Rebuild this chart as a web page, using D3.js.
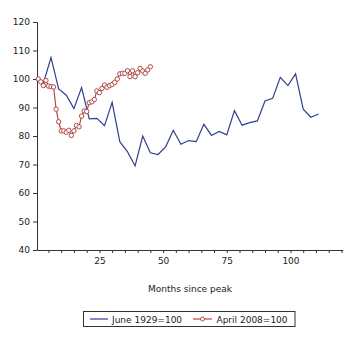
<!DOCTYPE html>
<html><head><meta charset="utf-8">
<script src="https://cdn.jsdelivr.net/npm/d3@7"></script>
<style>body{margin:0;background:#fff}svg{display:block}text{font-family:"DejaVu Sans",Verdana,sans-serif;fill:#222}</style>
</head><body><svg id="c" width="359" height="337"></svg>
<script>
const blueMonths = [1,3,6,9,12,15,18,21,24,27,30,33,36,39,42,45,48,51,54,57,60,63,66,69,72,75,78,81,84,87,90,93,96,99,102,105,108,111];
const blueValues = [100,98.5,107.5,96.5,94.3,89.6,97,86,86.2,83.6,91.8,78,74.5,69.5,80,74.1,73.5,76.2,82,77.1,78.4,78,84.1,80.2,81.6,80.4,88.9,83.8,84.7,85.3,92.3,93.2,100.6,97.7,101.8,89.4,86.6,87.7];
const redMonths = d3.range(1,46);
const redValues = [100,99,97.7,99.5,97.5,97.3,97.2,89.4,85,81.8,81.8,81.3,82,80.2,81.8,83.7,83.2,87,88.8,88.6,91.7,92,92.8,95.8,95.2,96.7,97.9,97.1,97.7,98.1,98.8,100,101.8,102,102,102.9,100.8,102.9,100.8,102.2,103.7,102.8,102,103.2,104.3];
const yTicks = [40,50,60,70,80,90,100,110,120];
const xTicks = [25,50,75,100];
const seriesNames = ["June 1929=100","April 2008=100"];
const colors = ["#2f3f8f","#b04a48"];

const svg = d3.select("#c");
const x = d3.scaleLinear().domain([0.5,120.5]).range([37,342.7]);
const y = d3.scaleLinear().domain([40,120]).range([250,22]);

// y axis
const ya = svg.append("g").attr("transform","translate(37,0)")
  .call(d3.axisLeft(y).tickValues(yTicks).tickSize(4).tickPadding(3));
ya.selectAll("text").attr("font-size",9).attr("fill","#222").style("font-family","DejaVu Sans");
ya.select(".domain").attr("stroke","#333");
ya.selectAll(".tick line").attr("stroke","#333");

// x axis
const xa = svg.append("g").attr("transform","translate(0,250)")
  .call(d3.axisBottom(x).tickValues(d3.range(5,121,5)).tickSize(3).tickSizeOuter(0).tickPadding(5)
    .tickFormat(d => xTicks.includes(d) ? d : ""));
xa.selectAll("text").attr("font-size",9).attr("fill","#222").style("font-family","DejaVu Sans");
xa.select(".domain").attr("stroke","#333");
xa.selectAll(".tick line").attr("stroke","#333");

svg.append("text").attr("x",190).attr("y",292).attr("text-anchor","middle").attr("font-size",9).text("Months since peak");

const line = d3.line().x(d=>x(d[0])).y(d=>y(d[1]));
const blue = blueMonths.map((m,i)=>[m,blueValues[i]]);
const red = redMonths.map((m,i)=>[m,redValues[i]]);
svg.append("path").attr("d",line(blue)).attr("fill","none").attr("stroke",colors[0]).attr("stroke-width",1.2);
svg.append("path").attr("d",line(red)).attr("fill","none").attr("stroke",colors[1]).attr("stroke-width",1.2);
svg.append("g").selectAll("circle").data(red).join("circle")
  .attr("cx",d=>x(d[0])).attr("cy",d=>y(d[1])).attr("r",2.2)
  .attr("fill","#fff").attr("stroke",colors[1]).attr("stroke-width",1);

// legend
const lg = svg.append("g");
lg.append("rect").attr("x",83.5).attr("y",311.5).attr("width",211.5).attr("height",15).attr("fill","none").attr("stroke","#333");
lg.append("line").attr("x1",90).attr("x2",108).attr("y1",319).attr("y2",319).attr("stroke",colors[0]).attr("stroke-width",1.2);
lg.append("text").attr("x",112).attr("y",322.5).attr("font-size",9).text(seriesNames[0]);
lg.append("line").attr("x1",193).attr("x2",212).attr("y1",319).attr("y2",319).attr("stroke",colors[1]).attr("stroke-width",1.2);
lg.append("circle").attr("cx",202.5).attr("cy",319).attr("r",2).attr("fill","#fff").attr("stroke",colors[1]);
lg.append("text").attr("x",216.5).attr("y",322.5).attr("font-size",9).text(seriesNames[1]);
</script></body></html>
